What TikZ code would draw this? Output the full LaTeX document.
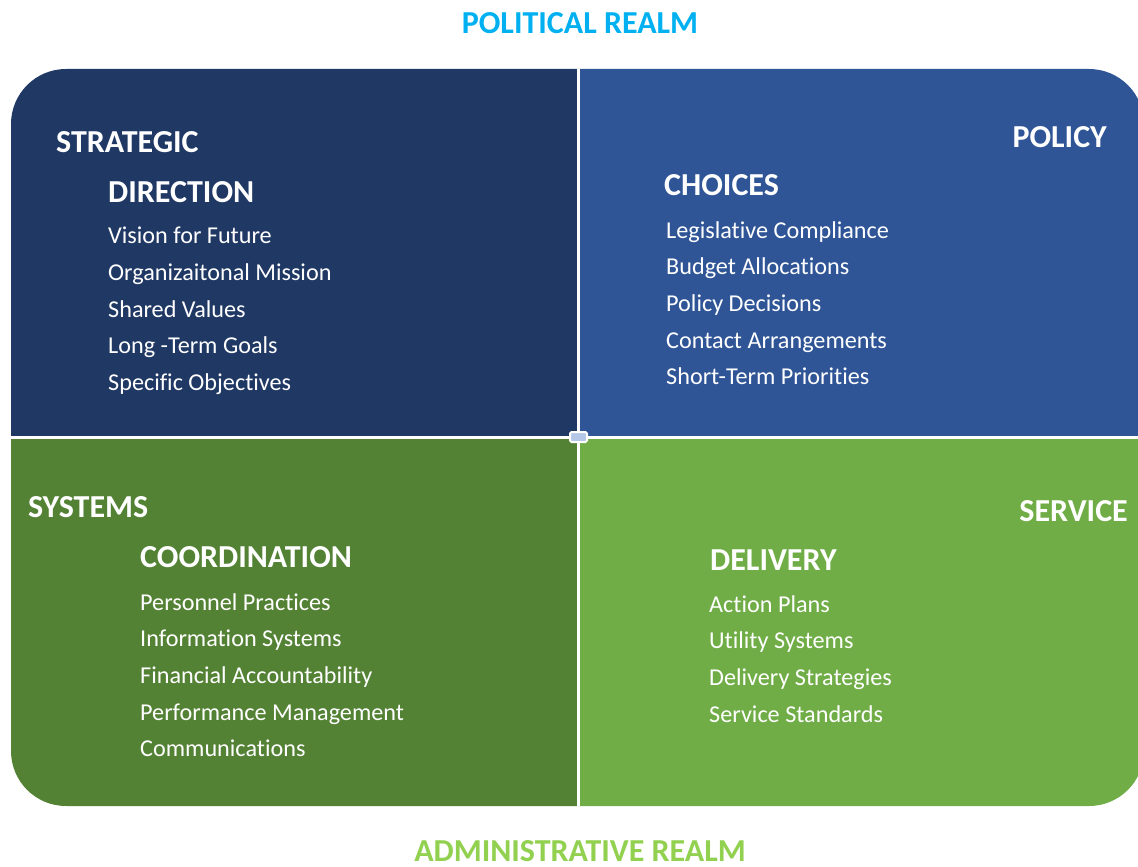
\documentclass[tikz,border=0pt]{standalone}
\usepackage{fontspec}
\setmainfont[Ligatures=NoCommon]{Carlito}
\usepackage{tikz}

\definecolor{strategicblue}{HTML}{203864}
\definecolor{policyblue}{HTML}{2F5597}
\definecolor{systemsgreen}{HTML}{548235}
\definecolor{servicegreen}{HTML}{70AD47}
\definecolor{politicalcyan}{HTML}{00B0F0}
\definecolor{adminlime}{HTML}{92D050}
\definecolor{hubgrey}{HTML}{B4C7E7}

\begin{document}
\begin{tikzpicture}[x=1pt,y=-1pt]

\tikzset{
    realm/.style={
        inner sep=0pt,
        anchor=base,
        font=\fontsize{32}{38}\selectfont\bfseries
    },
    head/.style={
        white,
        inner sep=0pt,
        anchor=base #1,
        font=\fontsize{32}{38}\selectfont\bfseries
    },
    item/.style={
        white,
        inner sep=0pt,
        anchor=base west,
        font=\fontsize{24.2}{29}\selectfont
    }
}

\useasboundingbox (0,0) rectangle (1138,867);

% quadrants
\begin{scope}
\clip (0,0) rectangle (1138,867);
\clip[rounded corners=55pt] (11,69) rectangle (1144,806);
\fill[strategicblue] (0,0) rectangle (578,437);
\fill[policyblue] (578,0) rectangle (1150,437);
\fill[systemsgreen] (0,437) rectangle (578,867);
\fill[servicegreen] (578,437) rectangle (1150,867);
\draw[white,line width=3pt] (578,60) -- (578,815);
\draw[white,line width=3pt] (0,437) -- (1150,437);
\end{scope}

\node(hub) [draw=white,line width=2pt,fill=hubgrey,rounded corners=1.5pt,
    minimum width=17pt,minimum height=10pt,inner sep=0pt] at (578.5,437) {};

\node(political) [realm,politicalcyan] at (580,34) {POLITICAL REALM};
\node(administrative) [realm,adminlime] at (580,861) {ADMINISTRATIVE REALM};

% strategic direction
\node(strategic) [head=west] at (56,152) {STRATEGIC};
\node(direction) [head=west] at (108,202) {DIRECTION};
\node(sd1) [item] at (108,243) {Vision for Future};
\node(sd2) [item] at (108,280) {Organizaitonal Mission};
\node(sd3) [item] at (108,317) {Shared Values};
\node(sd4) [item] at (108,353) {Long -Term Goals};
\node(sd5) [item] at (108,390) {Specific Objectives};

% policy choices
\node(policy) [head=east] at (1107,147) {POLICY};
\node(choices) [head=west] at (664,195) {CHOICES};
\node(pc1) [item] at (666,238) {Legislative Compliance};
\node(pc2) [item] at (666,274.5) {Budget Allocations};
\node(pc3) [item] at (666,311) {Policy Decisions};
\node(pc4) [item] at (666,348) {Contact Arrangements};
\node(pc5) [item] at (666,384.5) {Short-Term Priorities};

% systems coordination
\node(systems) [head=west] at (28,517) {SYSTEMS};
\node(coordination) [head=west] at (140,567) {COORDINATION};
\node(sc1) [item] at (140,610) {Personnel Practices};
\node(sc2) [item] at (140,646.5) {Information Systems};
\node(sc3) [item] at (140,683) {Financial Accountability};
\node(sc4) [item] at (140,720) {Performance Management};
\node(sc5) [item] at (140,756) {Communications};

% service delivery
\node(service) [head=east] at (1128,521) {SERVICE};
\node(delivery) [head=west] at (710,570) {DELIVERY};
\node(sv1) [item] at (709,612) {Action Plans};
\node(sv2) [item] at (709,648.5) {Utility Systems};
\node(sv3) [item] at (709,685) {Delivery Strategies};
\node(sv4) [item] at (709,722) {Service Standards};

\end{tikzpicture}
\end{document}
